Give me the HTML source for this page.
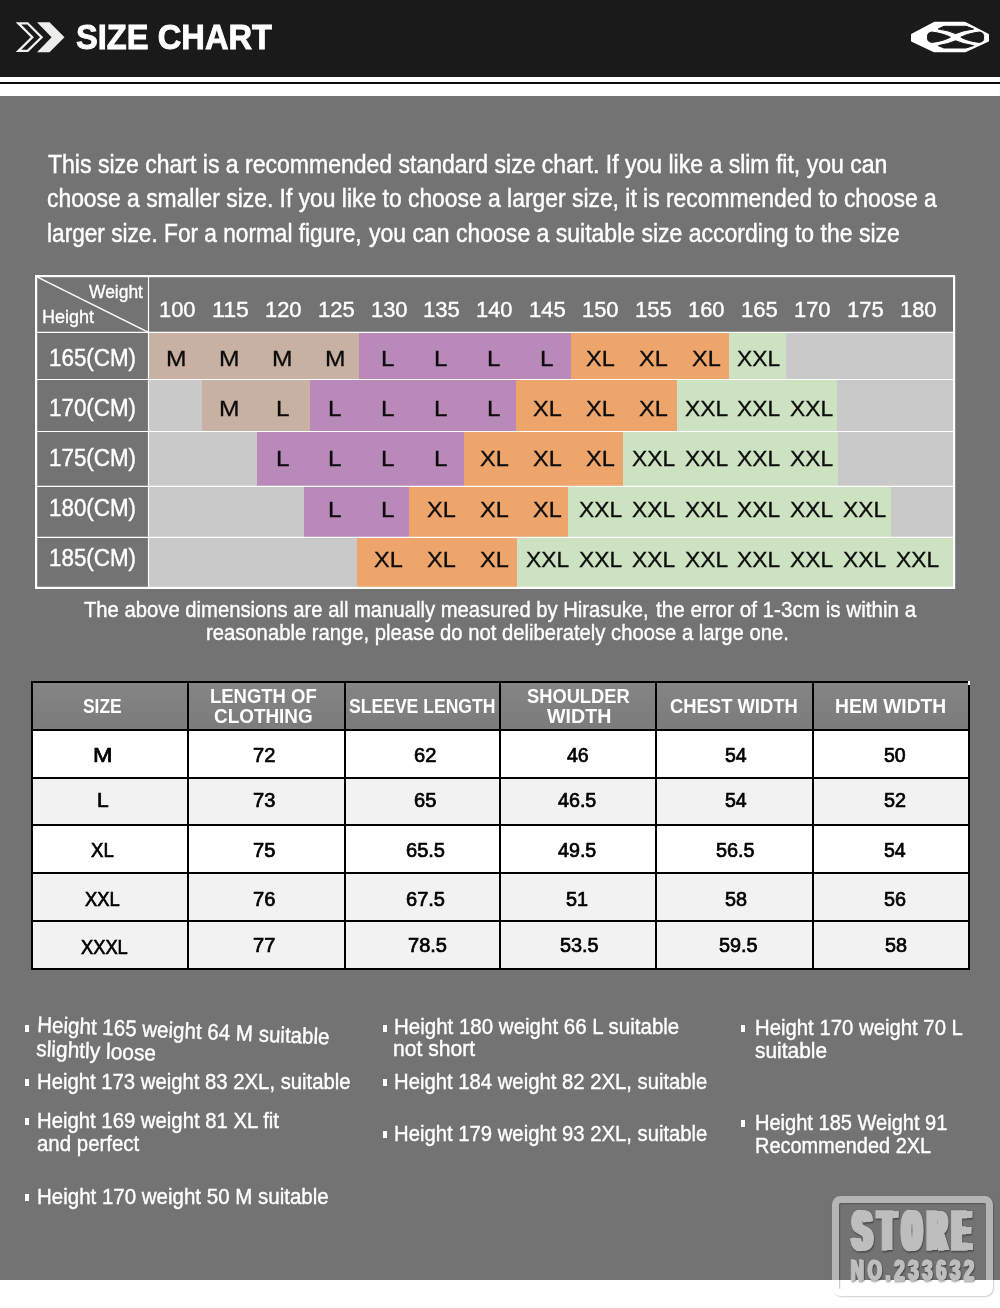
<!DOCTYPE html>
<html lang="en">
<head>
<meta charset="utf-8">
<title>Size Chart</title>
<style>
html,body{margin:0;padding:0;background:#fff;}
body{width:1000px;height:1308px;position:relative;overflow:hidden;font-family:"Liberation Sans",sans-serif;}
.abs{position:absolute;}
.t{position:absolute;white-space:nowrap;margin:0;padding:0;}
#hdr{left:0;top:0;width:1000px;height:76.5px;background:#1a1a1a;}
#hline{left:0;top:81.7px;width:1000px;height:2.2px;background:#0a0a0a;}
#main{left:0;top:96px;width:1000px;height:1183.8px;background:#737373;}
svg{position:absolute;left:0;top:0;}
#stampbox{left:831.9px;top:1195.9px;width:160.7px;height:99.9px;box-sizing:border-box;border:7.4px solid rgba(255,255,255,.47);border-radius:8.5px;box-shadow:1px 1px 1.5px rgba(0,0,0,.2), inset 1px 1px 1.5px rgba(0,0,0,.25);}
.st{opacity:.84;}
</style>
</head>
<body>
<div class="abs" id="hdr"></div>
<div class="abs" id="hline"></div>
<div class="abs" id="main"></div>
<svg width="1000" height="1308" viewBox="0 0 1000 1308">
  <!-- header chevrons -->
  <path d="M18.4 23.3 H27.6 L41.6 37.2 L27.7 50.9 H18.5 L32.3 37.2 Z" fill="none" stroke="#f1f1ef" stroke-width="2.3" stroke-linejoin="miter"/>
  <path d="M37 22.2 H49.5 L64.5 37.2 L49.5 52.2 H37 L51.6 37.2 Z" fill="#ededeb"/>
  <!-- logo -->
  <g id="logo">
    <path fill="#fff" d="M911 34.6 Q911 34.1 911.6 33.8 L933.4 22.2 Q934 21.8 934.8 21.8 H964.6 Q965.4 21.8 966 22.2 L988.3 33.8 Q989 34.2 989 34.8 V40.8 Q989 41.5 988.3 41.8 L966 52 Q965.4 52.3 964.6 52.3 H934.8 Q934 52.3 933.4 52 L911.6 41.8 Q911 41.5 911 40.8 Z"/>
    <g fill="#1a1a1a" stroke="#1a1a1a" stroke-width="1" stroke-linejoin="round">
      <path d="M938.2 29.0 L944 26.3 H966 L973.6 29.0 Q962 30.6 955.6 33.6 Q948.5 30.4 938.2 29.0 Z"/>
      <path d="M938.2 45.6 L944 48.0 H966 L973.6 45.6 Q962 43.8 955.6 40.8 Q948.5 44.0 938.2 45.6 Z"/>
      <path d="M927.6 35.2 Q927.6 33.0 931.5 32.0 Q943 33.4 950.4 37.2 Q943 41.2 931.5 42.4 Q927.6 41.4 927.6 39.6 Z"/>
      <path d="M983.6 35.2 Q983.6 33.0 979.7 32.0 Q968.2 33.4 960.8 37.2 Q968.2 41.2 979.7 42.4 Q983.6 41.4 983.6 39.6 Z"/>
    </g>
  </g>
  <!-- table 1 color bands -->
  <g shape-rendering="crispEdges">
    <rect x="149" y="332" width="805" height="255" fill="#c9c9c9"/>
    <!-- row 1 -->
    <rect x="149" y="332" width="210" height="47" fill="#c8b0a2"/>
    <rect x="359" y="332" width="212" height="47" fill="#b989ba"/>
    <rect x="571" y="332" width="158" height="47" fill="#eda56b"/>
    <rect x="729" y="332" width="57" height="47" fill="#cde2c0"/>
    <!-- row 2 -->
    <rect x="202" y="379" width="108" height="52" fill="#c8b0a2"/>
    <rect x="310" y="379" width="206" height="52" fill="#b989ba"/>
    <rect x="516" y="379" width="161" height="52" fill="#eda56b"/>
    <rect x="677" y="379" width="160" height="52" fill="#cde2c0"/>
    <!-- row 3 -->
    <rect x="257" y="431" width="207" height="55" fill="#b989ba"/>
    <rect x="464" y="431" width="159" height="55" fill="#eda56b"/>
    <rect x="623" y="431" width="215" height="55" fill="#cde2c0"/>
    <!-- row 4 -->
    <rect x="304" y="486" width="105" height="51" fill="#b989ba"/>
    <rect x="409" y="486" width="159" height="51" fill="#eda56b"/>
    <rect x="568" y="486" width="323" height="51" fill="#cde2c0"/>
    <!-- row 5 -->
    <rect x="357" y="537" width="160" height="50" fill="#eda56b"/>
    <rect x="517" y="537" width="437" height="50" fill="#cde2c0"/>
  </g>
  <!-- table 1 grid -->
  <g stroke="#fff" stroke-width="1.2" fill="none">
    <line x1="148.5" y1="276" x2="148.5" y2="588"/>
    <line x1="36" y1="332.4" x2="954" y2="332.4"/>
    <line x1="36" y1="379.5" x2="954" y2="379.5"/>
    <line x1="36" y1="431.5" x2="954" y2="431.5"/>
    <line x1="36" y1="486.4" x2="954" y2="486.4"/>
    <line x1="36" y1="537.4" x2="954" y2="537.4"/>
    <line x1="36" y1="276.4" x2="148.5" y2="332.4" stroke-width="1.5"/>
    <rect x="36.1" y="276.1" width="918" height="311.8" stroke-width="2.2"/>
  </g>
  <!-- table 2 -->
  <defs>
    <linearGradient id="thg" x1="0" y1="0" x2="0" y2="1">
      <stop offset="0" stop-color="#858585"/><stop offset="1" stop-color="#7b7b7b"/>
    </linearGradient>
  </defs>
  <g shape-rendering="crispEdges">
    <rect x="32" y="682" width="937" height="48" fill="url(#thg)"/>
    <rect x="32" y="730" width="937" height="48" fill="#fff"/>
    <rect x="32" y="778" width="937" height="47" fill="#f2f2f2"/>
    <rect x="32" y="825" width="937" height="48" fill="#fff"/>
    <rect x="32" y="873" width="937" height="48" fill="#f2f2f2"/>
    <rect x="32" y="921" width="937" height="48" fill="#f2f2f2"/>
  </g>
  <g stroke="#000" stroke-width="2" fill="none" shape-rendering="crispEdges">
    <path d="M31 682 H970 M32 681 V970 M969 681 V970 M31 969 H970"/>
    <line x1="188" y1="682" x2="188" y2="969"/>
    <line x1="345" y1="682" x2="345" y2="969"/>
    <line x1="500" y1="682" x2="500" y2="969"/>
    <line x1="656" y1="682" x2="656" y2="969"/>
    <line x1="813" y1="682" x2="813" y2="969"/>
    <line x1="32" y1="730" x2="969" y2="730"/>
    <line x1="32" y1="778" x2="969" y2="778"/>
    <line x1="32" y1="825" x2="969" y2="825"/>
    <line x1="32" y1="873" x2="969" y2="873"/>
    <line x1="32" y1="921" x2="969" y2="921"/>
  </g>
  <rect x="968" y="681" width="2" height="3.6" fill="#fff" shape-rendering="crispEdges"/>
  <!-- bullets -->
  <g fill="#fff" shape-rendering="crispEdges">
    <rect x="25" y="1025" width="4" height="7"/>
    <rect x="25" y="1079" width="4" height="7"/>
    <rect x="25" y="1118" width="4" height="7"/>
    <rect x="25" y="1194" width="4" height="7"/>
    <rect x="383" y="1025" width="4" height="7"/>
    <rect x="383" y="1079" width="4" height="7"/>
    <rect x="383" y="1131" width="4" height="7"/>
    <rect x="741" y="1025" width="4" height="7"/>
    <rect x="741" y="1120" width="4" height="7"/>
  </g>
  <!-- store stamp -->
  
</svg>
<div class="abs" id="stampbox"></div>
<div class="t" style="left:76.29px;top:20.00px;font:700 35.6px/35.6px 'Liberation Sans',sans-serif;color:#fff;transform:scaleX(0.9183);transform-origin:0 29.00px;-webkit-text-stroke:0.9px #fff">SIZE CHART</div>
<div class="t" style="left:47.64px;top:152.00px;font:400 25.2px/25.2px 'Liberation Sans',sans-serif;color:#fff;transform:scaleX(0.9139);transform-origin:0 21.00px;-webkit-text-stroke:0.45px #fff">This size chart is a recommended standard size chart. If you like a slim fit, you can</div>
<div class="t" style="left:46.69px;top:186.00px;font:400 25.2px/25.2px 'Liberation Sans',sans-serif;color:#fff;transform:scaleX(0.9079);transform-origin:0 21.00px;-webkit-text-stroke:0.45px #fff">choose a smaller size. If you like to choose a larger size, it is recommended to choose a</div>
<div class="t" style="left:46.58px;top:221.00px;font:400 25.2px/25.2px 'Liberation Sans',sans-serif;color:#fff;transform:scaleX(0.8991);transform-origin:0 21.00px;-webkit-text-stroke:0.45px #fff">larger size. For a normal figure,</div>
<div class="t" style="left:368.90px;top:221.00px;font:400 25.2px/25.2px 'Liberation Sans',sans-serif;color:#fff;transform:scaleX(0.9135);transform-origin:0 21.00px;-webkit-text-stroke:0.45px #fff">you can choose a suitable size according to the size</div>
<div class="t" style="left:88.60px;top:283.00px;font:400 18.6px/18.6px 'Liberation Sans',sans-serif;color:#fff;transform:scaleX(0.9372);transform-origin:0 15.00px;-webkit-text-stroke:0.35px #fff">Weight</div>
<div class="t" style="left:42.19px;top:308.00px;font:400 18.6px/18.6px 'Liberation Sans',sans-serif;color:#fff;transform:scaleX(0.9699);transform-origin:0 15.00px;-webkit-text-stroke:0.35px #fff">Height</div>
<div class="t" style="left:158.93px;top:299.00px;font:400 22.6px/22.6px 'Liberation Sans',sans-serif;color:#fff;transform:scaleX(0.9683);transform-origin:0 18.00px;-webkit-text-stroke:0.4px #fff">100</div>
<div class="t" style="left:211.75px;top:299.00px;font:400 22.6px/22.6px 'Liberation Sans',sans-serif;color:#fff;transform:scaleX(1.0267);transform-origin:0 18.00px;-webkit-text-stroke:0.4px #fff">115</div>
<div class="t" style="left:264.73px;top:299.00px;font:400 22.6px/22.6px 'Liberation Sans',sans-serif;color:#fff;transform:scaleX(0.9683);transform-origin:0 18.00px;-webkit-text-stroke:0.4px #fff">120</div>
<div class="t" style="left:317.62px;top:299.00px;font:400 22.6px/22.6px 'Liberation Sans',sans-serif;color:#fff;transform:scaleX(0.9780);transform-origin:0 18.00px;-webkit-text-stroke:0.4px #fff">125</div>
<div class="t" style="left:370.53px;top:299.00px;font:400 22.6px/22.6px 'Liberation Sans',sans-serif;color:#fff;transform:scaleX(0.9683);transform-origin:0 18.00px;-webkit-text-stroke:0.4px #fff">130</div>
<div class="t" style="left:423.42px;top:299.00px;font:400 22.6px/22.6px 'Liberation Sans',sans-serif;color:#fff;transform:scaleX(0.9780);transform-origin:0 18.00px;-webkit-text-stroke:0.4px #fff">135</div>
<div class="t" style="left:476.33px;top:299.00px;font:400 22.6px/22.6px 'Liberation Sans',sans-serif;color:#fff;transform:scaleX(0.9683);transform-origin:0 18.00px;-webkit-text-stroke:0.4px #fff">140</div>
<div class="t" style="left:529.22px;top:299.00px;font:400 22.6px/22.6px 'Liberation Sans',sans-serif;color:#fff;transform:scaleX(0.9780);transform-origin:0 18.00px;-webkit-text-stroke:0.4px #fff">145</div>
<div class="t" style="left:582.13px;top:299.00px;font:400 22.6px/22.6px 'Liberation Sans',sans-serif;color:#fff;transform:scaleX(0.9683);transform-origin:0 18.00px;-webkit-text-stroke:0.4px #fff">150</div>
<div class="t" style="left:635.02px;top:299.00px;font:400 22.6px/22.6px 'Liberation Sans',sans-serif;color:#fff;transform:scaleX(0.9780);transform-origin:0 18.00px;-webkit-text-stroke:0.4px #fff">155</div>
<div class="t" style="left:687.93px;top:299.00px;font:400 22.6px/22.6px 'Liberation Sans',sans-serif;color:#fff;transform:scaleX(0.9683);transform-origin:0 18.00px;-webkit-text-stroke:0.4px #fff">160</div>
<div class="t" style="left:740.82px;top:299.00px;font:400 22.6px/22.6px 'Liberation Sans',sans-serif;color:#fff;transform:scaleX(0.9780);transform-origin:0 18.00px;-webkit-text-stroke:0.4px #fff">165</div>
<div class="t" style="left:793.73px;top:299.00px;font:400 22.6px/22.6px 'Liberation Sans',sans-serif;color:#fff;transform:scaleX(0.9683);transform-origin:0 18.00px;-webkit-text-stroke:0.4px #fff">170</div>
<div class="t" style="left:846.62px;top:299.00px;font:400 22.6px/22.6px 'Liberation Sans',sans-serif;color:#fff;transform:scaleX(0.9780);transform-origin:0 18.00px;-webkit-text-stroke:0.4px #fff">175</div>
<div class="t" style="left:899.53px;top:299.00px;font:400 22.6px/22.6px 'Liberation Sans',sans-serif;color:#fff;transform:scaleX(0.9683);transform-origin:0 18.00px;-webkit-text-stroke:0.4px #fff">180</div>
<div class="t" style="left:49.00px;top:347.00px;font:400 23.3px/23.3px 'Liberation Sans',sans-serif;color:#fff;transform:scaleX(0.9606);transform-origin:0 19.00px;-webkit-text-stroke:0.4px #fff">165(CM)</div>
<div class="t" style="left:166.13px;top:348.00px;font:400 21.9px/21.9px 'Liberation Sans',sans-serif;color:#0c0c0c;transform:scaleX(1.1225);transform-origin:0 18.00px;-webkit-text-stroke:0.3px #0c0c0c">M</div>
<div class="t" style="left:219.08px;top:348.00px;font:400 21.9px/21.9px 'Liberation Sans',sans-serif;color:#0c0c0c;transform:scaleX(1.1225);transform-origin:0 18.00px;-webkit-text-stroke:0.3px #0c0c0c">M</div>
<div class="t" style="left:272.03px;top:348.00px;font:400 21.9px/21.9px 'Liberation Sans',sans-serif;color:#0c0c0c;transform:scaleX(1.1225);transform-origin:0 18.00px;-webkit-text-stroke:0.3px #0c0c0c">M</div>
<div class="t" style="left:324.98px;top:348.00px;font:400 21.9px/21.9px 'Liberation Sans',sans-serif;color:#0c0c0c;transform:scaleX(1.1225);transform-origin:0 18.00px;-webkit-text-stroke:0.3px #0c0c0c">M</div>
<div class="t" style="left:381.40px;top:348.00px;font:400 21.9px/21.9px 'Liberation Sans',sans-serif;color:#0c0c0c;transform:scaleX(1.1085);transform-origin:0 18.00px;-webkit-text-stroke:0.3px #0c0c0c">L</div>
<div class="t" style="left:434.35px;top:348.00px;font:400 21.9px/21.9px 'Liberation Sans',sans-serif;color:#0c0c0c;transform:scaleX(1.1085);transform-origin:0 18.00px;-webkit-text-stroke:0.3px #0c0c0c">L</div>
<div class="t" style="left:487.30px;top:348.00px;font:400 21.9px/21.9px 'Liberation Sans',sans-serif;color:#0c0c0c;transform:scaleX(1.1085);transform-origin:0 18.00px;-webkit-text-stroke:0.3px #0c0c0c">L</div>
<div class="t" style="left:540.25px;top:348.00px;font:400 21.9px/21.9px 'Liberation Sans',sans-serif;color:#0c0c0c;transform:scaleX(1.1085);transform-origin:0 18.00px;-webkit-text-stroke:0.3px #0c0c0c">L</div>
<div class="t" style="left:585.83px;top:348.00px;font:400 21.9px/21.9px 'Liberation Sans',sans-serif;color:#0c0c0c;transform:scaleX(1.0734);transform-origin:0 18.00px;-webkit-text-stroke:0.3px #0c0c0c">XL</div>
<div class="t" style="left:638.78px;top:348.00px;font:400 21.9px/21.9px 'Liberation Sans',sans-serif;color:#0c0c0c;transform:scaleX(1.0734);transform-origin:0 18.00px;-webkit-text-stroke:0.3px #0c0c0c">XL</div>
<div class="t" style="left:691.73px;top:348.00px;font:400 21.9px/21.9px 'Liberation Sans',sans-serif;color:#0c0c0c;transform:scaleX(1.0734);transform-origin:0 18.00px;-webkit-text-stroke:0.3px #0c0c0c">XL</div>
<div class="t" style="left:737.49px;top:348.00px;font:400 21.9px/21.9px 'Liberation Sans',sans-serif;color:#0c0c0c;transform:scaleX(1.0418);transform-origin:0 18.00px;-webkit-text-stroke:0.3px #0c0c0c">XXL</div>
<div class="t" style="left:49.00px;top:397.00px;font:400 23.3px/23.3px 'Liberation Sans',sans-serif;color:#fff;transform:scaleX(0.9606);transform-origin:0 19.00px;-webkit-text-stroke:0.4px #fff">170(CM)</div>
<div class="t" style="left:219.08px;top:398.00px;font:400 21.9px/21.9px 'Liberation Sans',sans-serif;color:#0c0c0c;transform:scaleX(1.1225);transform-origin:0 18.00px;-webkit-text-stroke:0.3px #0c0c0c">M</div>
<div class="t" style="left:275.50px;top:398.00px;font:400 21.9px/21.9px 'Liberation Sans',sans-serif;color:#0c0c0c;transform:scaleX(1.1085);transform-origin:0 18.00px;-webkit-text-stroke:0.3px #0c0c0c">L</div>
<div class="t" style="left:328.45px;top:398.00px;font:400 21.9px/21.9px 'Liberation Sans',sans-serif;color:#0c0c0c;transform:scaleX(1.1085);transform-origin:0 18.00px;-webkit-text-stroke:0.3px #0c0c0c">L</div>
<div class="t" style="left:381.40px;top:398.00px;font:400 21.9px/21.9px 'Liberation Sans',sans-serif;color:#0c0c0c;transform:scaleX(1.1085);transform-origin:0 18.00px;-webkit-text-stroke:0.3px #0c0c0c">L</div>
<div class="t" style="left:434.35px;top:398.00px;font:400 21.9px/21.9px 'Liberation Sans',sans-serif;color:#0c0c0c;transform:scaleX(1.1085);transform-origin:0 18.00px;-webkit-text-stroke:0.3px #0c0c0c">L</div>
<div class="t" style="left:487.30px;top:398.00px;font:400 21.9px/21.9px 'Liberation Sans',sans-serif;color:#0c0c0c;transform:scaleX(1.1085);transform-origin:0 18.00px;-webkit-text-stroke:0.3px #0c0c0c">L</div>
<div class="t" style="left:532.88px;top:398.00px;font:400 21.9px/21.9px 'Liberation Sans',sans-serif;color:#0c0c0c;transform:scaleX(1.0734);transform-origin:0 18.00px;-webkit-text-stroke:0.3px #0c0c0c">XL</div>
<div class="t" style="left:585.83px;top:398.00px;font:400 21.9px/21.9px 'Liberation Sans',sans-serif;color:#0c0c0c;transform:scaleX(1.0734);transform-origin:0 18.00px;-webkit-text-stroke:0.3px #0c0c0c">XL</div>
<div class="t" style="left:638.78px;top:398.00px;font:400 21.9px/21.9px 'Liberation Sans',sans-serif;color:#0c0c0c;transform:scaleX(1.0734);transform-origin:0 18.00px;-webkit-text-stroke:0.3px #0c0c0c">XL</div>
<div class="t" style="left:684.54px;top:398.00px;font:400 21.9px/21.9px 'Liberation Sans',sans-serif;color:#0c0c0c;transform:scaleX(1.0418);transform-origin:0 18.00px;-webkit-text-stroke:0.3px #0c0c0c">XXL</div>
<div class="t" style="left:737.49px;top:398.00px;font:400 21.9px/21.9px 'Liberation Sans',sans-serif;color:#0c0c0c;transform:scaleX(1.0418);transform-origin:0 18.00px;-webkit-text-stroke:0.3px #0c0c0c">XXL</div>
<div class="t" style="left:790.44px;top:398.00px;font:400 21.9px/21.9px 'Liberation Sans',sans-serif;color:#0c0c0c;transform:scaleX(1.0418);transform-origin:0 18.00px;-webkit-text-stroke:0.3px #0c0c0c">XXL</div>
<div class="t" style="left:49.00px;top:447.00px;font:400 23.3px/23.3px 'Liberation Sans',sans-serif;color:#fff;transform:scaleX(0.9606);transform-origin:0 19.00px;-webkit-text-stroke:0.4px #fff">175(CM)</div>
<div class="t" style="left:275.50px;top:448.00px;font:400 21.9px/21.9px 'Liberation Sans',sans-serif;color:#0c0c0c;transform:scaleX(1.1085);transform-origin:0 18.00px;-webkit-text-stroke:0.3px #0c0c0c">L</div>
<div class="t" style="left:328.45px;top:448.00px;font:400 21.9px/21.9px 'Liberation Sans',sans-serif;color:#0c0c0c;transform:scaleX(1.1085);transform-origin:0 18.00px;-webkit-text-stroke:0.3px #0c0c0c">L</div>
<div class="t" style="left:381.40px;top:448.00px;font:400 21.9px/21.9px 'Liberation Sans',sans-serif;color:#0c0c0c;transform:scaleX(1.1085);transform-origin:0 18.00px;-webkit-text-stroke:0.3px #0c0c0c">L</div>
<div class="t" style="left:434.35px;top:448.00px;font:400 21.9px/21.9px 'Liberation Sans',sans-serif;color:#0c0c0c;transform:scaleX(1.1085);transform-origin:0 18.00px;-webkit-text-stroke:0.3px #0c0c0c">L</div>
<div class="t" style="left:479.93px;top:448.00px;font:400 21.9px/21.9px 'Liberation Sans',sans-serif;color:#0c0c0c;transform:scaleX(1.0734);transform-origin:0 18.00px;-webkit-text-stroke:0.3px #0c0c0c">XL</div>
<div class="t" style="left:532.88px;top:448.00px;font:400 21.9px/21.9px 'Liberation Sans',sans-serif;color:#0c0c0c;transform:scaleX(1.0734);transform-origin:0 18.00px;-webkit-text-stroke:0.3px #0c0c0c">XL</div>
<div class="t" style="left:585.83px;top:448.00px;font:400 21.9px/21.9px 'Liberation Sans',sans-serif;color:#0c0c0c;transform:scaleX(1.0734);transform-origin:0 18.00px;-webkit-text-stroke:0.3px #0c0c0c">XL</div>
<div class="t" style="left:631.59px;top:448.00px;font:400 21.9px/21.9px 'Liberation Sans',sans-serif;color:#0c0c0c;transform:scaleX(1.0418);transform-origin:0 18.00px;-webkit-text-stroke:0.3px #0c0c0c">XXL</div>
<div class="t" style="left:684.54px;top:448.00px;font:400 21.9px/21.9px 'Liberation Sans',sans-serif;color:#0c0c0c;transform:scaleX(1.0418);transform-origin:0 18.00px;-webkit-text-stroke:0.3px #0c0c0c">XXL</div>
<div class="t" style="left:737.49px;top:448.00px;font:400 21.9px/21.9px 'Liberation Sans',sans-serif;color:#0c0c0c;transform:scaleX(1.0418);transform-origin:0 18.00px;-webkit-text-stroke:0.3px #0c0c0c">XXL</div>
<div class="t" style="left:790.44px;top:448.00px;font:400 21.9px/21.9px 'Liberation Sans',sans-serif;color:#0c0c0c;transform:scaleX(1.0418);transform-origin:0 18.00px;-webkit-text-stroke:0.3px #0c0c0c">XXL</div>
<div class="t" style="left:49.00px;top:497.00px;font:400 23.3px/23.3px 'Liberation Sans',sans-serif;color:#fff;transform:scaleX(0.9606);transform-origin:0 19.00px;-webkit-text-stroke:0.4px #fff">180(CM)</div>
<div class="t" style="left:328.45px;top:499.00px;font:400 21.9px/21.9px 'Liberation Sans',sans-serif;color:#0c0c0c;transform:scaleX(1.1085);transform-origin:0 18.00px;-webkit-text-stroke:0.3px #0c0c0c">L</div>
<div class="t" style="left:381.40px;top:499.00px;font:400 21.9px/21.9px 'Liberation Sans',sans-serif;color:#0c0c0c;transform:scaleX(1.1085);transform-origin:0 18.00px;-webkit-text-stroke:0.3px #0c0c0c">L</div>
<div class="t" style="left:426.98px;top:499.00px;font:400 21.9px/21.9px 'Liberation Sans',sans-serif;color:#0c0c0c;transform:scaleX(1.0734);transform-origin:0 18.00px;-webkit-text-stroke:0.3px #0c0c0c">XL</div>
<div class="t" style="left:479.93px;top:499.00px;font:400 21.9px/21.9px 'Liberation Sans',sans-serif;color:#0c0c0c;transform:scaleX(1.0734);transform-origin:0 18.00px;-webkit-text-stroke:0.3px #0c0c0c">XL</div>
<div class="t" style="left:532.88px;top:499.00px;font:400 21.9px/21.9px 'Liberation Sans',sans-serif;color:#0c0c0c;transform:scaleX(1.0734);transform-origin:0 18.00px;-webkit-text-stroke:0.3px #0c0c0c">XL</div>
<div class="t" style="left:578.64px;top:499.00px;font:400 21.9px/21.9px 'Liberation Sans',sans-serif;color:#0c0c0c;transform:scaleX(1.0418);transform-origin:0 18.00px;-webkit-text-stroke:0.3px #0c0c0c">XXL</div>
<div class="t" style="left:631.59px;top:499.00px;font:400 21.9px/21.9px 'Liberation Sans',sans-serif;color:#0c0c0c;transform:scaleX(1.0418);transform-origin:0 18.00px;-webkit-text-stroke:0.3px #0c0c0c">XXL</div>
<div class="t" style="left:684.54px;top:499.00px;font:400 21.9px/21.9px 'Liberation Sans',sans-serif;color:#0c0c0c;transform:scaleX(1.0418);transform-origin:0 18.00px;-webkit-text-stroke:0.3px #0c0c0c">XXL</div>
<div class="t" style="left:737.49px;top:499.00px;font:400 21.9px/21.9px 'Liberation Sans',sans-serif;color:#0c0c0c;transform:scaleX(1.0418);transform-origin:0 18.00px;-webkit-text-stroke:0.3px #0c0c0c">XXL</div>
<div class="t" style="left:790.44px;top:499.00px;font:400 21.9px/21.9px 'Liberation Sans',sans-serif;color:#0c0c0c;transform:scaleX(1.0418);transform-origin:0 18.00px;-webkit-text-stroke:0.3px #0c0c0c">XXL</div>
<div class="t" style="left:843.39px;top:499.00px;font:400 21.9px/21.9px 'Liberation Sans',sans-serif;color:#0c0c0c;transform:scaleX(1.0418);transform-origin:0 18.00px;-webkit-text-stroke:0.3px #0c0c0c">XXL</div>
<div class="t" style="left:49.00px;top:547.00px;font:400 23.3px/23.3px 'Liberation Sans',sans-serif;color:#fff;transform:scaleX(0.9606);transform-origin:0 19.00px;-webkit-text-stroke:0.4px #fff">185(CM)</div>
<div class="t" style="left:374.03px;top:549.00px;font:400 21.9px/21.9px 'Liberation Sans',sans-serif;color:#0c0c0c;transform:scaleX(1.0734);transform-origin:0 18.00px;-webkit-text-stroke:0.3px #0c0c0c">XL</div>
<div class="t" style="left:426.98px;top:549.00px;font:400 21.9px/21.9px 'Liberation Sans',sans-serif;color:#0c0c0c;transform:scaleX(1.0734);transform-origin:0 18.00px;-webkit-text-stroke:0.3px #0c0c0c">XL</div>
<div class="t" style="left:479.93px;top:549.00px;font:400 21.9px/21.9px 'Liberation Sans',sans-serif;color:#0c0c0c;transform:scaleX(1.0734);transform-origin:0 18.00px;-webkit-text-stroke:0.3px #0c0c0c">XL</div>
<div class="t" style="left:525.69px;top:549.00px;font:400 21.9px/21.9px 'Liberation Sans',sans-serif;color:#0c0c0c;transform:scaleX(1.0418);transform-origin:0 18.00px;-webkit-text-stroke:0.3px #0c0c0c">XXL</div>
<div class="t" style="left:578.64px;top:549.00px;font:400 21.9px/21.9px 'Liberation Sans',sans-serif;color:#0c0c0c;transform:scaleX(1.0418);transform-origin:0 18.00px;-webkit-text-stroke:0.3px #0c0c0c">XXL</div>
<div class="t" style="left:631.59px;top:549.00px;font:400 21.9px/21.9px 'Liberation Sans',sans-serif;color:#0c0c0c;transform:scaleX(1.0418);transform-origin:0 18.00px;-webkit-text-stroke:0.3px #0c0c0c">XXL</div>
<div class="t" style="left:684.54px;top:549.00px;font:400 21.9px/21.9px 'Liberation Sans',sans-serif;color:#0c0c0c;transform:scaleX(1.0418);transform-origin:0 18.00px;-webkit-text-stroke:0.3px #0c0c0c">XXL</div>
<div class="t" style="left:737.49px;top:549.00px;font:400 21.9px/21.9px 'Liberation Sans',sans-serif;color:#0c0c0c;transform:scaleX(1.0418);transform-origin:0 18.00px;-webkit-text-stroke:0.3px #0c0c0c">XXL</div>
<div class="t" style="left:790.44px;top:549.00px;font:400 21.9px/21.9px 'Liberation Sans',sans-serif;color:#0c0c0c;transform:scaleX(1.0418);transform-origin:0 18.00px;-webkit-text-stroke:0.3px #0c0c0c">XXL</div>
<div class="t" style="left:843.39px;top:549.00px;font:400 21.9px/21.9px 'Liberation Sans',sans-serif;color:#0c0c0c;transform:scaleX(1.0418);transform-origin:0 18.00px;-webkit-text-stroke:0.3px #0c0c0c">XXL</div>
<div class="t" style="left:896.34px;top:549.00px;font:400 21.9px/21.9px 'Liberation Sans',sans-serif;color:#0c0c0c;transform:scaleX(1.0418);transform-origin:0 18.00px;-webkit-text-stroke:0.3px #0c0c0c">XXL</div>
<div class="t" style="left:84.48px;top:598.00px;font:400 22.7px/22.7px 'Liberation Sans',sans-serif;color:#fff;transform:scaleX(0.8921);transform-origin:0 19.00px;-webkit-text-stroke:0.4px #fff">The above dimensions are all manually measured by Hirasuke,</div>
<div class="t" style="left:655.50px;top:598.00px;font:400 22.7px/22.7px 'Liberation Sans',sans-serif;color:#fff;transform:scaleX(0.9092);transform-origin:0 19.00px;-webkit-text-stroke:0.4px #fff">the error of 1-3cm is within a</div>
<div class="t" style="left:205.73px;top:621.00px;font:400 22.7px/22.7px 'Liberation Sans',sans-serif;color:#fff;transform:scaleX(0.8920);transform-origin:0 19.00px;-webkit-text-stroke:0.4px #fff">reasonable range, please do not deliberately choose a large one.</div>
<div class="t" style="left:82.73px;top:697.00px;font:700 19.5px/19.5px 'Liberation Sans',sans-serif;color:#fff;transform:scaleX(0.8936);transform-origin:0 16.00px">SIZE</div>
<div class="t" style="left:209.85px;top:687.00px;font:700 19.5px/19.5px 'Liberation Sans',sans-serif;color:#fff;transform:scaleX(0.9476);transform-origin:0 16.00px">LENGTH OF</div>
<div class="t" style="left:214.41px;top:707.00px;font:700 19.5px/19.5px 'Liberation Sans',sans-serif;color:#fff;transform:scaleX(0.9694);transform-origin:0 16.00px">CLOTHING</div>
<div class="t" style="left:348.73px;top:697.00px;font:700 19.5px/19.5px 'Liberation Sans',sans-serif;color:#fff;transform:scaleX(0.9010);transform-origin:0 16.00px">SLEEVE LENGTH</div>
<div class="t" style="left:526.71px;top:687.00px;font:700 19.5px/19.5px 'Liberation Sans',sans-serif;color:#fff;transform:scaleX(0.9380);transform-origin:0 16.00px">SHOULDER</div>
<div class="t" style="left:547.00px;top:707.00px;font:700 19.5px/19.5px 'Liberation Sans',sans-serif;color:#fff;transform:scaleX(1.0062);transform-origin:0 16.00px">WIDTH</div>
<div class="t" style="left:670.42px;top:697.00px;font:700 19.5px/19.5px 'Liberation Sans',sans-serif;color:#fff;transform:scaleX(0.9437);transform-origin:0 16.00px">CHEST WIDTH</div>
<div class="t" style="left:834.80px;top:697.00px;font:700 19.5px/19.5px 'Liberation Sans',sans-serif;color:#fff;transform:scaleX(0.9878);transform-origin:0 16.00px">HEM WIDTH</div>
<div class="t" style="left:92.82px;top:746.00px;font:400 19.6px/19.6px 'Liberation Sans',sans-serif;color:#000;transform:scaleX(1.1948);transform-origin:0 16.00px;-webkit-text-stroke:0.7px #000">M</div>
<div class="t" style="left:252.96px;top:746.00px;font:400 19.6px/19.6px 'Liberation Sans',sans-serif;color:#000;transform:scaleX(1.0255);transform-origin:0 16.00px;-webkit-text-stroke:0.7px #000">72</div>
<div class="t" style="left:413.96px;top:746.00px;font:400 19.6px/19.6px 'Liberation Sans',sans-serif;color:#000;transform:scaleX(1.0255);transform-origin:0 16.00px;-webkit-text-stroke:0.7px #000">62</div>
<div class="t" style="left:566.60px;top:746.00px;font:400 19.6px/19.6px 'Liberation Sans',sans-serif;color:#000;transform:scaleX(0.9951);transform-origin:0 16.00px;-webkit-text-stroke:0.7px #000">46</div>
<div class="t" style="left:724.79px;top:746.00px;font:400 19.6px/19.6px 'Liberation Sans',sans-serif;color:#000;transform:scaleX(0.9951);transform-origin:0 16.00px;-webkit-text-stroke:0.7px #000">54</div>
<div class="t" style="left:883.79px;top:746.00px;font:400 19.6px/19.6px 'Liberation Sans',sans-serif;color:#000;transform:scaleX(0.9951);transform-origin:0 16.00px;-webkit-text-stroke:0.7px #000">50</div>
<div class="t" style="left:96.71px;top:791.00px;font:400 19.6px/19.6px 'Liberation Sans',sans-serif;color:#000;transform:scaleX(1.0697);transform-origin:0 16.00px;-webkit-text-stroke:0.7px #000">L</div>
<div class="t" style="left:252.96px;top:791.00px;font:400 19.6px/19.6px 'Liberation Sans',sans-serif;color:#000;transform:scaleX(1.0255);transform-origin:0 16.00px;-webkit-text-stroke:0.7px #000">73</div>
<div class="t" style="left:413.96px;top:791.00px;font:400 19.6px/19.6px 'Liberation Sans',sans-serif;color:#000;transform:scaleX(1.0255);transform-origin:0 16.00px;-webkit-text-stroke:0.7px #000">65</div>
<div class="t" style="left:558.29px;top:791.00px;font:400 19.6px/19.6px 'Liberation Sans',sans-serif;color:#000;transform:scaleX(1.0041);transform-origin:0 16.00px;-webkit-text-stroke:0.7px #000">46.5</div>
<div class="t" style="left:724.79px;top:791.00px;font:400 19.6px/19.6px 'Liberation Sans',sans-serif;color:#000;transform:scaleX(0.9951);transform-origin:0 16.00px;-webkit-text-stroke:0.7px #000">54</div>
<div class="t" style="left:883.78px;top:791.00px;font:400 19.6px/19.6px 'Liberation Sans',sans-serif;color:#000;transform:scaleX(1.0101);transform-origin:0 16.00px;-webkit-text-stroke:0.7px #000">52</div>
<div class="t" style="left:90.71px;top:841.00px;font:400 19.6px/19.6px 'Liberation Sans',sans-serif;color:#000;transform:scaleX(0.9491);transform-origin:0 16.00px;-webkit-text-stroke:0.7px #000">XL</div>
<div class="t" style="left:252.96px;top:841.00px;font:400 19.6px/19.6px 'Liberation Sans',sans-serif;color:#000;transform:scaleX(1.0255);transform-origin:0 16.00px;-webkit-text-stroke:0.7px #000">75</div>
<div class="t" style="left:405.66px;top:841.00px;font:400 19.6px/19.6px 'Liberation Sans',sans-serif;color:#000;transform:scaleX(1.0210);transform-origin:0 16.00px;-webkit-text-stroke:0.7px #000">65.5</div>
<div class="t" style="left:558.29px;top:841.00px;font:400 19.6px/19.6px 'Liberation Sans',sans-serif;color:#000;transform:scaleX(1.0041);transform-origin:0 16.00px;-webkit-text-stroke:0.7px #000">49.5</div>
<div class="t" style="left:716.48px;top:841.00px;font:400 19.6px/19.6px 'Liberation Sans',sans-serif;color:#000;transform:scaleX(1.0125);transform-origin:0 16.00px;-webkit-text-stroke:0.7px #000">56.5</div>
<div class="t" style="left:883.79px;top:841.00px;font:400 19.6px/19.6px 'Liberation Sans',sans-serif;color:#000;transform:scaleX(0.9951);transform-origin:0 16.00px;-webkit-text-stroke:0.7px #000">54</div>
<div class="t" style="left:84.71px;top:890.00px;font:400 19.6px/19.6px 'Liberation Sans',sans-serif;color:#000;transform:scaleX(0.9379);transform-origin:0 16.00px;-webkit-text-stroke:0.7px #000">XXL</div>
<div class="t" style="left:252.96px;top:890.00px;font:400 19.6px/19.6px 'Liberation Sans',sans-serif;color:#000;transform:scaleX(1.0255);transform-origin:0 16.00px;-webkit-text-stroke:0.7px #000">76</div>
<div class="t" style="left:405.66px;top:890.00px;font:400 19.6px/19.6px 'Liberation Sans',sans-serif;color:#000;transform:scaleX(1.0210);transform-origin:0 16.00px;-webkit-text-stroke:0.7px #000">67.5</div>
<div class="t" style="left:566.28px;top:890.00px;font:400 19.6px/19.6px 'Liberation Sans',sans-serif;color:#000;transform:scaleX(1.0101);transform-origin:0 16.00px;-webkit-text-stroke:0.7px #000">51</div>
<div class="t" style="left:724.78px;top:890.00px;font:400 19.6px/19.6px 'Liberation Sans',sans-serif;color:#000;transform:scaleX(1.0101);transform-origin:0 16.00px;-webkit-text-stroke:0.7px #000">58</div>
<div class="t" style="left:883.78px;top:890.00px;font:400 19.6px/19.6px 'Liberation Sans',sans-serif;color:#000;transform:scaleX(1.0101);transform-origin:0 16.00px;-webkit-text-stroke:0.7px #000">56</div>
<div class="t" style="left:80.71px;top:938.00px;font:400 19.6px/19.6px 'Liberation Sans',sans-serif;color:#000;transform:scaleX(0.9326);transform-origin:0 16.00px;-webkit-text-stroke:0.7px #000">XXXL</div>
<div class="t" style="left:253.46px;top:936.00px;font:400 19.6px/19.6px 'Liberation Sans',sans-serif;color:#000;transform:scaleX(1.0255);transform-origin:0 16.00px;-webkit-text-stroke:0.7px #000">77</div>
<div class="t" style="left:407.66px;top:936.00px;font:400 19.6px/19.6px 'Liberation Sans',sans-serif;color:#000;transform:scaleX(1.0210);transform-origin:0 16.00px;-webkit-text-stroke:0.7px #000">78.5</div>
<div class="t" style="left:560.48px;top:936.00px;font:400 19.6px/19.6px 'Liberation Sans',sans-serif;color:#000;transform:scaleX(1.0125);transform-origin:0 16.00px;-webkit-text-stroke:0.7px #000">53.5</div>
<div class="t" style="left:718.98px;top:936.00px;font:400 19.6px/19.6px 'Liberation Sans',sans-serif;color:#000;transform:scaleX(1.0125);transform-origin:0 16.00px;-webkit-text-stroke:0.7px #000">59.5</div>
<div class="t" style="left:884.78px;top:936.00px;font:400 19.6px/19.6px 'Liberation Sans',sans-serif;color:#000;transform:scaleX(1.0101);transform-origin:0 16.00px;-webkit-text-stroke:0.7px #000">58</div>
<div class="t" style="left:37.09px;top:1014.00px;font:400 22.4px/22.4px 'Liberation Sans',sans-serif;color:#fff;transform:rotate(2.45deg) scaleX(0.9177);transform-origin:0 18.00px;-webkit-text-stroke:0.4px #fff">Height 165 weight 64 M suitable</div>
<div class="t" style="left:35.97px;top:1038.00px;font:400 22.4px/22.4px 'Liberation Sans',sans-serif;color:#fff;transform:rotate(2.3deg) scaleX(0.9348);transform-origin:0 18.00px;-webkit-text-stroke:0.4px #fff">slightly loose</div>
<div class="t" style="left:37.11px;top:1071.00px;font:400 22.4px/22.4px 'Liberation Sans',sans-serif;color:#fff;transform:scaleX(0.9062);transform-origin:0 18.00px;-webkit-text-stroke:0.4px #fff">Height 173 weight 83 2XL, suitable</div>
<div class="t" style="left:37.11px;top:1110.00px;font:400 22.4px/22.4px 'Liberation Sans',sans-serif;color:#fff;transform:scaleX(0.9070);transform-origin:0 18.00px;-webkit-text-stroke:0.4px #fff">Height 169 weight 81 XL fit</div>
<div class="t" style="left:36.66px;top:1133.00px;font:400 22.4px/22.4px 'Liberation Sans',sans-serif;color:#fff;transform:scaleX(0.9125);transform-origin:0 18.00px;-webkit-text-stroke:0.4px #fff">and perfect</div>
<div class="t" style="left:37.10px;top:1186.00px;font:400 22.4px/22.4px 'Liberation Sans',sans-serif;color:#fff;transform:scaleX(0.9152);transform-origin:0 18.00px;-webkit-text-stroke:0.4px #fff">Height 170 weight 50 M suitable</div>
<div class="t" style="left:394.30px;top:1016.00px;font:400 22.4px/22.4px 'Liberation Sans',sans-serif;color:#fff;transform:scaleX(0.9154);transform-origin:0 18.00px;-webkit-text-stroke:0.4px #fff">Height 180 weight 66 L suitable</div>
<div class="t" style="left:392.68px;top:1038.00px;font:400 22.4px/22.4px 'Liberation Sans',sans-serif;color:#fff;transform:scaleX(0.9436);transform-origin:0 18.00px;-webkit-text-stroke:0.4px #fff">not short</div>
<div class="t" style="left:394.32px;top:1071.00px;font:400 22.4px/22.4px 'Liberation Sans',sans-serif;color:#fff;transform:scaleX(0.9056);transform-origin:0 18.00px;-webkit-text-stroke:0.4px #fff">Height 184 weight 82 2XL, suitable</div>
<div class="t" style="left:394.32px;top:1123.00px;font:400 22.4px/22.4px 'Liberation Sans',sans-serif;color:#fff;transform:scaleX(0.9056);transform-origin:0 18.00px;-webkit-text-stroke:0.4px #fff">Height 179 weight 93 2XL, suitable</div>
<div class="t" style="left:755.31px;top:1017.00px;font:400 22.4px/22.4px 'Liberation Sans',sans-serif;color:#fff;transform:scaleX(0.9077);transform-origin:0 18.00px;-webkit-text-stroke:0.4px #fff">Height 170 weight 70 L</div>
<div class="t" style="left:754.67px;top:1040.00px;font:400 22.4px/22.4px 'Liberation Sans',sans-serif;color:#fff;transform:scaleX(0.9348);transform-origin:0 18.00px;-webkit-text-stroke:0.4px #fff">suitable</div>
<div class="t" style="left:755.33px;top:1112.00px;font:400 22.4px/22.4px 'Liberation Sans',sans-serif;color:#fff;transform:scaleX(0.8952);transform-origin:0 18.00px;-webkit-text-stroke:0.4px #fff">Height 185 Weight 91</div>
<div class="t" style="left:755.34px;top:1135.00px;font:400 22.4px/22.4px 'Liberation Sans',sans-serif;color:#fff;transform:scaleX(0.8898);transform-origin:0 18.00px;-webkit-text-stroke:0.4px #fff">Recommended 2XL</div>
<div class="t st" style="left:849.8px;top:1204.4px;font:700 60px/60px 'Liberation Mono',sans-serif;letter-spacing:11.6px;color:#cdcdcd;-webkit-text-stroke:1.7px #cdcdcd;text-shadow:1.20px 0 #cdcdcd,2.40px 0 #cdcdcd,3.60px 0 #cdcdcd,4.80px 0 #cdcdcd,6.00px 0 #cdcdcd,7.20px 0 #cdcdcd,8.40px 0 #cdcdcd,9.60px 0 #cdcdcd,10.80px 0 #cdcdcd,11.40px 0 #cdcdcd;filter:drop-shadow(1.91px 1.00px 0.96px rgba(0,0,0,.6));transform:scale(0.523,1.0);transform-origin:0 0">STORE</div>
<div class="t st" style="left:849.6px;top:1256.0px;font:700 30px/30px 'Liberation Sans',sans-serif;letter-spacing:6.5px;color:#cdcdcd;-webkit-text-stroke:1.3px #cdcdcd;text-shadow:1.20px 0 #cdcdcd,2.40px 0 #cdcdcd,3.40px 0 #cdcdcd;filter:drop-shadow(1.67px 1.03px 0.83px rgba(0,0,0,.6));transform:scale(0.6,0.97);transform-origin:0 0">NO.233632</div>
</body>
</html>
